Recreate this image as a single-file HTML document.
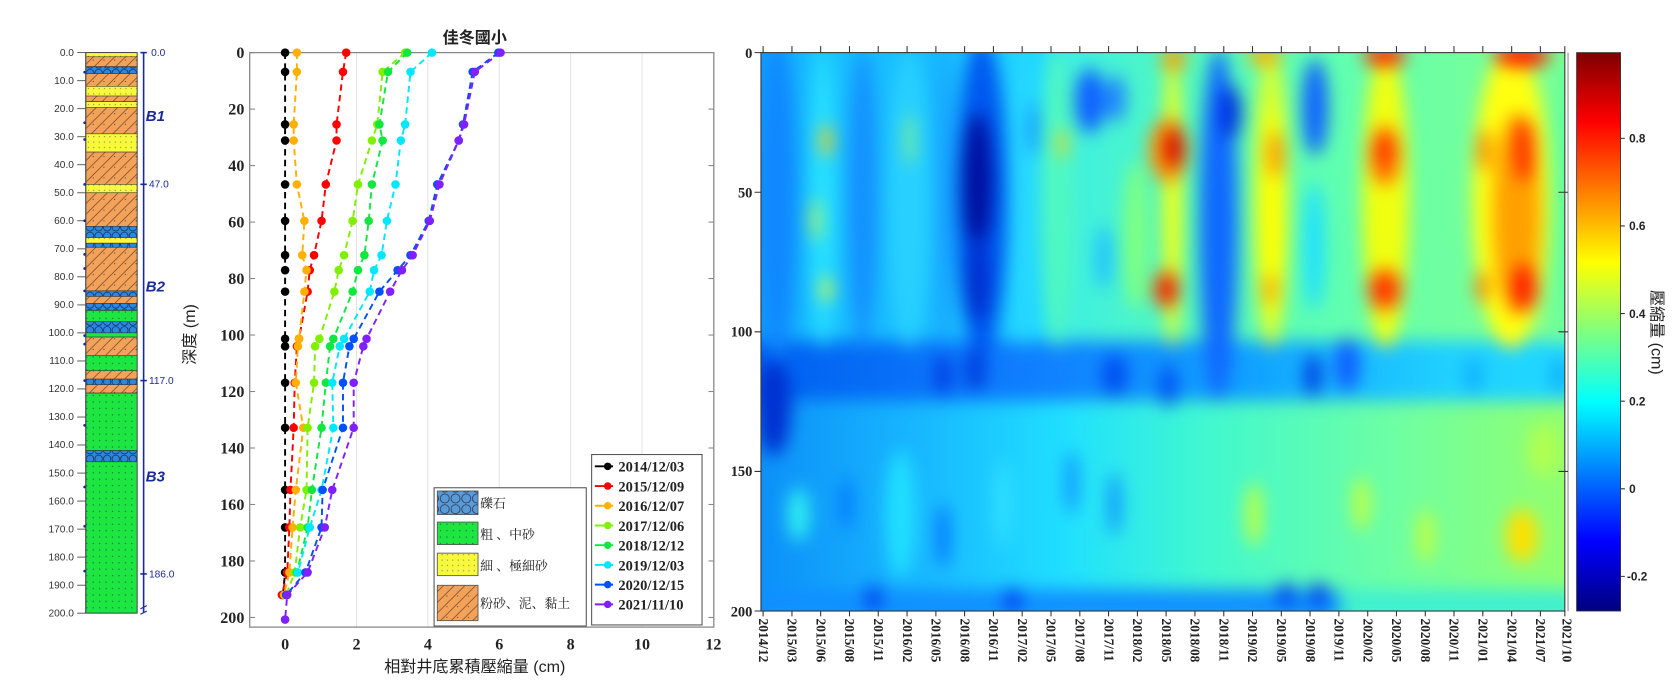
<!DOCTYPE html>
<html><head><meta charset="utf-8"><style>html,body{margin:0;padding:0;background:#fff}svg{display:block}</style></head><body>
<svg width="1672" height="699" viewBox="0 0 1560 652" xmlns="http://www.w3.org/2000/svg">
<defs>
<pattern id="pOr" patternUnits="userSpaceOnUse" width="10" height="10"><rect width="10" height="10" fill="#f4a25a"/><path d="M-2,12 L12,-2 M-2,2 L2,-2 M8,12 L12,8" stroke="#6a4a2a" stroke-width="0.7"/><circle cx="7" cy="6" r="0.5" fill="#333"/></pattern>
<pattern id="pYe" patternUnits="userSpaceOnUse" width="5" height="5"><rect width="5" height="5" fill="#f8f83c"/><circle cx="2.5" cy="2.5" r="0.5" fill="#555"/></pattern>
<pattern id="pGr" patternUnits="userSpaceOnUse" width="6" height="6"><rect width="6" height="6" fill="#1ee640"/><circle cx="3" cy="3" r="0.55" fill="#155"/></pattern>
<pattern id="pBl" patternUnits="userSpaceOnUse" width="8" height="8"><rect width="8" height="8" fill="#2a88e0"/><circle cx="4" cy="4" r="3.5" fill="none" stroke="#124" stroke-width="0.6"/></pattern>
<pattern id="pBl2" patternUnits="userSpaceOnUse" width="10" height="10"><rect width="10" height="10" fill="#5a9ad8"/><circle cx="5" cy="5" r="4.2" fill="none" stroke="#234" stroke-width="0.7"/></pattern>
<pattern id="ruler" patternUnits="userSpaceOnUse" x="0" y="49" width="10" height="2.615"><line x1="75" y1="0.3" x2="80" y2="0.3" stroke="#666" stroke-width="0.5"/></pattern>
<linearGradient id="jet" x1="0" y1="1" x2="0" y2="0">
<stop offset="0" stop-color="#00007f"/><stop offset="0.125" stop-color="#0000ff"/><stop offset="0.375" stop-color="#00ffff"/><stop offset="0.625" stop-color="#ffff00"/><stop offset="0.875" stop-color="#ff0000"/><stop offset="1" stop-color="#7f0000"/></linearGradient>
<linearGradient id="baseU" x1="710" y1="0" x2="1460" y2="0" gradientUnits="userSpaceOnUse">
<stop offset="0" stop-color="#10a0ff"/><stop offset="0.07" stop-color="#18c0ff"/><stop offset="0.22" stop-color="#18bcff"/><stop offset="0.34" stop-color="#20d8ff"/><stop offset="0.39" stop-color="#40f0e0"/><stop offset="0.52" stop-color="#50f8c0"/><stop offset="0.72" stop-color="#60ffb0"/><stop offset="1" stop-color="#80ff90"/></linearGradient>
<linearGradient id="band" x1="710" y1="0" x2="1460" y2="0" gradientUnits="userSpaceOnUse">
<stop offset="0" stop-color="#0060f0"/><stop offset="0.35" stop-color="#1080ff"/><stop offset="0.6" stop-color="#10a0ff"/><stop offset="0.85" stop-color="#20d0ff"/><stop offset="1" stop-color="#20d8ff"/></linearGradient>
<linearGradient id="baseL" x1="710" y1="0" x2="1460" y2="0" gradientUnits="userSpaceOnUse">
<stop offset="0" stop-color="#0c90f8"/><stop offset="0.2" stop-color="#18b8ff"/><stop offset="0.38" stop-color="#20e0ff"/><stop offset="0.55" stop-color="#40f8d0"/><stop offset="0.8" stop-color="#70ffa0"/><stop offset="1" stop-color="#90ff70"/></linearGradient>
<filter id="bl" x="-5%" y="-5%" width="110%" height="110%" color-interpolation-filters="sRGB"><feGaussianBlur stdDeviation="8"/></filter>
<clipPath id="hc"><rect x="710" y="49" width="750" height="521"/></clipPath>
<marker id="mk" markerUnits="userSpaceOnUse" markerWidth="10" markerHeight="10" refX="5" refY="5"><circle cx="5" cy="5" r="4" fill="context-stroke"/></marker>
</defs>

<!-- ===== LEFT COLUMN ===== -->
<g>
<rect x="80" y="49" width="48" height="523" fill="url(#pGr)"/>
<g stroke="#333" stroke-width="0.5">
<rect x="80" y="49.0" width="48" height="3.9" fill="url(#pYe)"/>
<rect x="80" y="52.9" width="48" height="9.2" fill="url(#pOr)"/>
<rect x="80" y="62.1" width="48" height="6.5" fill="url(#pBl)"/>
<rect x="80" y="68.6" width="48" height="11.8" fill="url(#pOr)"/>
<rect x="80" y="80.4" width="48" height="9.2" fill="url(#pYe)"/>
<rect x="80" y="89.5" width="48" height="5.2" fill="url(#pOr)"/>
<rect x="80" y="94.8" width="48" height="5.2" fill="url(#pYe)"/>
<rect x="80" y="100.0" width="48" height="24.8" fill="url(#pOr)"/>
<rect x="80" y="124.8" width="48" height="17.0" fill="url(#pYe)"/>
<rect x="80" y="141.8" width="48" height="30.1" fill="url(#pOr)"/>
<rect x="80" y="171.9" width="48" height="7.8" fill="url(#pYe)"/>
<rect x="80" y="179.8" width="48" height="31.4" fill="url(#pOr)"/>
<rect x="80" y="211.1" width="48" height="10.5" fill="url(#pBl)"/>
<rect x="80" y="221.6" width="48" height="5.2" fill="url(#pYe)"/>
<rect x="80" y="226.8" width="48" height="3.9" fill="url(#pBl)"/>
<rect x="80" y="230.7" width="48" height="40.5" fill="url(#pOr)"/>
<rect x="80" y="271.3" width="48" height="5.2" fill="url(#pBl)"/>
<rect x="80" y="276.5" width="48" height="6.5" fill="url(#pOr)"/>
<rect x="80" y="283.1" width="48" height="6.5" fill="url(#pBl)"/>
<rect x="80" y="289.6" width="48" height="10.5" fill="url(#pGr)"/>
<rect x="80" y="300.0" width="48" height="10.5" fill="url(#pBl)"/>
<rect x="80" y="310.5" width="48" height="3.9" fill="url(#pGr)"/>
<rect x="80" y="314.4" width="48" height="17.0" fill="url(#pOr)"/>
<rect x="80" y="331.4" width="48" height="14.4" fill="url(#pGr)"/>
<rect x="80" y="345.8" width="48" height="7.8" fill="url(#pOr)"/>
<rect x="80" y="353.6" width="48" height="5.2" fill="url(#pBl)"/>
<rect x="80" y="358.8" width="48" height="7.8" fill="url(#pOr)"/>
<rect x="80" y="366.7" width="48" height="53.6" fill="url(#pGr)"/>
<rect x="80" y="420.3" width="48" height="10.5" fill="url(#pBl)"/>
<rect x="80" y="430.8" width="48" height="141.2" fill="url(#pGr)"/>
</g>
<rect x="80" y="49" width="48" height="523" fill="none" stroke="#333" stroke-width="0.8"/>
<rect x="70" y="49" width="10" height="523" fill="url(#ruler)"/>
<line x1="80" y1="49" x2="80" y2="572" stroke="#555" stroke-width="1"/>
<g stroke="#444" stroke-width="0.8">
<line x1="72" y1="49" x2="80" y2="49"/><line x1="72" y1="75.2" x2="80" y2="75.2"/><line x1="72" y1="101.3" x2="80" y2="101.3"/><line x1="72" y1="127.5" x2="80" y2="127.5"/><line x1="72" y1="153.6" x2="80" y2="153.6"/><line x1="72" y1="179.8" x2="80" y2="179.8"/><line x1="72" y1="205.9" x2="80" y2="205.9"/><line x1="72" y1="232.1" x2="80" y2="232.1"/><line x1="72" y1="258.2" x2="80" y2="258.2"/><line x1="72" y1="284.4" x2="80" y2="284.4"/><line x1="72" y1="310.5" x2="80" y2="310.5"/><line x1="72" y1="336.7" x2="80" y2="336.7"/><line x1="72" y1="362.8" x2="80" y2="362.8"/><line x1="72" y1="389.0" x2="80" y2="389.0"/><line x1="72" y1="415.1" x2="80" y2="415.1"/><line x1="72" y1="441.3" x2="80" y2="441.3"/><line x1="72" y1="467.4" x2="80" y2="467.4"/><line x1="72" y1="493.6" x2="80" y2="493.6"/><line x1="72" y1="519.7" x2="80" y2="519.7"/><line x1="72" y1="545.9" x2="80" y2="545.9"/><line x1="72" y1="572" x2="80" y2="572"/>
</g>
<g font-family="Liberation Sans, sans-serif" font-size="9.5" fill="#333" text-anchor="end">
<text x="69" y="52">0.0</text><text x="69" y="78.2">10.0</text><text x="69" y="104.3">20.0</text><text x="69" y="130.5">30.0</text><text x="69" y="156.6">40.0</text><text x="69" y="182.8">50.0</text><text x="69" y="208.9">60.0</text><text x="69" y="235.1">70.0</text><text x="69" y="261.2">80.0</text><text x="69" y="287.4">90.0</text><text x="69" y="313.5">100.0</text><text x="69" y="339.7">110.0</text><text x="69" y="365.8">120.0</text><text x="69" y="392">130.0</text><text x="69" y="418.1">140.0</text><text x="69" y="444.3">150.0</text><text x="69" y="470.4">160.0</text><text x="69" y="496.6">170.0</text><text x="69" y="522.7">180.0</text><text x="69" y="548.9">190.0</text><text x="69" y="575">200.0</text>
</g>
<g fill="#1a2a9a">
<circle cx="79" cy="67.3" r="1.3"/><circle cx="79" cy="114.4" r="1.3"/><circle cx="79" cy="130.1" r="1.3"/><circle cx="79" cy="171.9" r="1.3"/><circle cx="79" cy="205.9" r="1.3"/><circle cx="79" cy="237.3" r="1.3"/><circle cx="79" cy="250.4" r="1.3"/><circle cx="79" cy="271.3" r="1.3"/><circle cx="79" cy="313.1" r="1.3"/><circle cx="79" cy="321" r="1.3"/><circle cx="79" cy="355" r="1.3"/><circle cx="79" cy="396.8" r="1.3"/><circle cx="79" cy="454.3" r="1.3"/><circle cx="79" cy="490.9" r="1.3"/><circle cx="79" cy="532.8" r="1.3"/>
</g>
<g stroke="#1a2a9a" stroke-width="1.5"><line x1="134" y1="49" x2="134" y2="572"/><line x1="131" y1="49" x2="137" y2="49"/><line x1="131" y1="171.9" x2="137" y2="171.9"/><line x1="131" y1="355" x2="137" y2="355"/><line x1="131" y1="535.4" x2="137" y2="535.4"/><path d="M131,568 l6,-3 M131,573 l6,-3" stroke-width="1"/></g>
<g font-family="Liberation Sans, sans-serif" font-size="9.5" fill="#1a2a9a">
<text x="141" y="52">0.0</text><text x="139" y="175">47.0</text><text x="139" y="358">117.0</text><text x="139" y="538.5">186.0</text>
</g>
<g font-family="Liberation Sans, sans-serif" font-size="14" font-weight="bold" font-style="italic" fill="#1a2a9a">
<text x="136" y="113">B1</text><text x="136" y="272">B2</text><text x="136" y="449">B3</text>
</g>
</g>

<!-- ===== MIDDLE CHART ===== -->
<g>
<g stroke="#e4e4e4" stroke-width="1"><line x1="332.6" y1="49" x2="332.6" y2="585"/><line x1="399.2" y1="49" x2="399.2" y2="585"/><line x1="465.8" y1="49" x2="465.8" y2="585"/><line x1="532.4" y1="49" x2="532.4" y2="585"/><line x1="599" y1="49" x2="599" y2="585"/></g>
<rect x="233" y="49" width="433" height="536" fill="none" stroke="#888" stroke-width="1.2"/>
<g stroke="#888" stroke-width="1">
<line x1="233" y1="49" x2="238" y2="49"/><line x1="233" y1="101.7" x2="238" y2="101.7"/><line x1="233" y1="154.4" x2="238" y2="154.4"/><line x1="233" y1="207.1" x2="238" y2="207.1"/><line x1="233" y1="259.8" x2="238" y2="259.8"/><line x1="233" y1="312.5" x2="238" y2="312.5"/><line x1="233" y1="365.2" x2="238" y2="365.2"/><line x1="233" y1="417.9" x2="238" y2="417.9"/><line x1="233" y1="470.6" x2="238" y2="470.6"/><line x1="233" y1="523.3" x2="238" y2="523.3"/><line x1="233" y1="576" x2="238" y2="576"/>
<line x1="661" y1="101.7" x2="666" y2="101.7"/><line x1="661" y1="154.4" x2="666" y2="154.4"/><line x1="661" y1="207.1" x2="666" y2="207.1"/><line x1="661" y1="259.8" x2="666" y2="259.8"/><line x1="661" y1="312.5" x2="666" y2="312.5"/><line x1="661" y1="365.2" x2="666" y2="365.2"/><line x1="661" y1="417.9" x2="666" y2="417.9"/><line x1="661" y1="470.6" x2="666" y2="470.6"/><line x1="661" y1="523.3" x2="666" y2="523.3"/><line x1="661" y1="576" x2="666" y2="576"/>
</g>
<g font-family="Liberation Serif, serif" font-size="15" font-weight="bold" fill="#222" text-anchor="end">
<text x="228" y="54">0</text><text x="228" y="106.7">20</text><text x="228" y="159.4">40</text><text x="228" y="212.1">60</text><text x="228" y="264.8">80</text><text x="228" y="317.5">100</text><text x="228" y="370.2">120</text><text x="228" y="422.9">140</text><text x="228" y="475.6">160</text><text x="228" y="528.3">180</text><text x="228" y="581">200</text>
</g>
<g font-family="Liberation Serif, serif" font-size="15" font-weight="bold" fill="#222" text-anchor="middle">
<text x="266" y="606">0</text><text x="332.6" y="606">2</text><text x="399.2" y="606">4</text><text x="465.8" y="606">6</text><text x="532.4" y="606">8</text><text x="599" y="606">10</text><text x="665.6" y="606">12</text>
</g>
<text x="443" y="627" font-family="Liberation Sans, 'Noto Sans CJK TC', sans-serif" font-size="15" fill="#222" text-anchor="middle">相對井底累積壓縮量 (cm)</text>
<text transform="translate(182,312) rotate(-90)" font-family="Liberation Sans, 'Noto Sans CJK TC', sans-serif" font-size="15" fill="#222" text-anchor="middle">深度 (m)</text>
<text x="443" y="40" font-family="Liberation Sans, 'Noto Sans CJK TC', sans-serif" font-size="15" font-weight="bold" fill="#222" text-anchor="middle">佳冬國小</text>

<g fill="none" stroke-width="1.8" stroke-dasharray="6,4" marker-start="url(#mk)" marker-mid="url(#mk)" marker-end="url(#mk)">
<polyline stroke="#000" points="266,49 266,67 266,116 266,131 266,172 266,206 266,238 266,252 266,272 266,316 266,323 266,357 266,399 266,457 266,492 266,534 264,555"/>
<polyline stroke="#ff0000" points="323,49 320,67 314,116 314,131 304,172 300,206 293,238 289,252 287,272 279,316 277,323 275,357 274,399 271,457 270,492 268,534 263,555"/>
<polyline stroke="#ffb000" points="277,49 277,67 274,116 274,131 277,172 284,206 282,238 286,252 284,272 279,316 278,323 276,357 283,399 276,457 273,492 270,534 265,555"/>
<polyline stroke="#80f000" points="378,49 357,67 352,116 347,131 334,172 329,206 321,238 316,252 312,272 298,316 294,323 293,357 287,399 286,457 280,492 275,534 267,555"/>
<polyline stroke="#10e840" points="380,49 362,67 354,116 357,131 347,172 344,206 340,238 334,252 329,272 311,316 308,323 304,357 300,399 291,457 287,492 277,534"/>
<polyline stroke="#00e8ff" points="403,49 383,67 378,116 374,131 369,172 361,206 356,238 349,252 345,272 321,316 317,323 310,357 311,399 300,457 289,492 278,534"/>
<polyline stroke="#0050ff" points="465,49 441,67 432,116 428,131 408,172 400,206 383,238 371,252 354,272 330,316 326,323 320,357 320,399 301,457 300,492 285,534 267,555"/>
<polyline stroke="#8020ff" points="467,49 443,67 433,116 428,131 410,172 401,206 385,238 375,252 364,272 342,316 339,323 330,357 330,399 310,457 303,492 287,534 268,555 266,578"/>
</g>

<rect x="405" y="455" width="142" height="129" fill="#fff" stroke="#555" stroke-width="1"/>
<rect x="408" y="458" width="38" height="22" fill="url(#pBl2)" stroke="#555" stroke-width="0.8"/>
<rect x="408" y="487" width="38" height="21" fill="url(#pGr)" stroke="#555" stroke-width="0.8"/>
<rect x="408" y="516" width="38" height="21" fill="url(#pYe)" stroke="#555" stroke-width="0.8"/>
<rect x="408" y="546" width="38" height="33" fill="url(#pOr)" stroke="#555" stroke-width="0.8"/>
<g font-family="'Noto Serif CJK SC', 'Noto Sans CJK TC', serif" font-size="12" fill="#222">
<text x="448" y="474">礫石</text><text x="448" y="503">粗 、中砂</text><text x="448" y="532">細 、極細砂</text><text x="448" y="567">粉砂、泥、黏土</text>
</g>
<rect x="552" y="424" width="103" height="159" fill="#fff" stroke="#555" stroke-width="1"/>
<g stroke-width="1.8">
<line x1="555" y1="435" x2="572" y2="435" stroke="#000"/><circle cx="567" cy="435" r="3.5" fill="#000"/>
<line x1="555" y1="453.4" x2="572" y2="453.4" stroke="#f00"/><circle cx="567" cy="453.4" r="3.5" fill="#f00"/>
<line x1="555" y1="471.8" x2="572" y2="471.8" stroke="#ffb000"/><circle cx="567" cy="471.8" r="3.5" fill="#ffb000"/>
<line x1="555" y1="490.2" x2="572" y2="490.2" stroke="#80f000"/><circle cx="567" cy="490.2" r="3.5" fill="#80f000"/>
<line x1="555" y1="508.6" x2="572" y2="508.6" stroke="#10e840"/><circle cx="567" cy="508.6" r="3.5" fill="#10e840"/>
<line x1="555" y1="527" x2="572" y2="527" stroke="#00e8ff"/><circle cx="567" cy="527" r="3.5" fill="#00e8ff"/>
<line x1="555" y1="545.4" x2="572" y2="545.4" stroke="#0050ff"/><circle cx="567" cy="545.4" r="3.5" fill="#0050ff"/>
<line x1="555" y1="563.8" x2="572" y2="563.8" stroke="#8020ff"/><circle cx="567" cy="563.8" r="3.5" fill="#8020ff"/>
</g>
<g font-family="Liberation Serif, serif" font-size="13.5" font-weight="bold" fill="#222">
<text x="577" y="440">2014/12/03</text><text x="577" y="458.4">2015/12/09</text><text x="577" y="476.8">2016/12/07</text><text x="577" y="495.2">2017/12/06</text><text x="577" y="513.6">2018/12/12</text><text x="577" y="532">2019/12/03</text><text x="577" y="550.4">2020/12/15</text><text x="577" y="568.8">2021/11/10</text>
</g>
</g>

<!-- ===== HEATMAP ===== -->
<g clip-path="url(#hc)">
<rect x="700" y="40" width="770" height="540" fill="url(#baseU)"/>
<g filter="url(#bl)">
<rect x="690" y="376" width="790" height="200" fill="url(#baseL)"/>
<rect x="690" y="318" width="790" height="56" fill="url(#band)"/>
<ellipse cx="725" cy="185" rx="18" ry="150" fill="#1088ff"/>
<ellipse cx="768" cy="185" rx="12" ry="140" fill="#28e0ff"/>
<ellipse cx="771" cy="131" rx="5" ry="15" fill="#ffcc00"/>
<ellipse cx="771" cy="270" rx="5" ry="12" fill="#e8ff30"/>
<ellipse cx="761" cy="205" rx="4" ry="20" fill="#d0ff40"/>
<ellipse cx="805" cy="185" rx="14" ry="140" fill="#1490ff"/>
<ellipse cx="848" cy="185" rx="20" ry="140" fill="#28d0ff"/>
<ellipse cx="849" cy="130" rx="3" ry="25" fill="#b0ff50"/>
<ellipse cx="882" cy="185" rx="6" ry="140" fill="#1898ff"/>
<ellipse cx="916" cy="185" rx="24" ry="150" fill="#0058f0"/>
<ellipse cx="912" cy="170" rx="14" ry="65" fill="#0010a0"/>
<ellipse cx="912" cy="260" rx="12" ry="40" fill="#0030d0"/>
<ellipse cx="956" cy="185" rx="10" ry="140" fill="#28d8ff"/>
<ellipse cx="964" cy="120" rx="4" ry="25" fill="#1080ff"/>
<ellipse cx="987" cy="185" rx="16" ry="140" fill="#50f8c0"/>
<ellipse cx="991" cy="134" rx="4" ry="14" fill="#ffd000"/>
<ellipse cx="1017" cy="94" rx="14" ry="30" fill="#1060ff"/>
<ellipse cx="1041" cy="92" rx="9" ry="22" fill="#2080ff"/>
<ellipse cx="1030" cy="240" rx="8" ry="30" fill="#20c0ff"/>
<ellipse cx="1060" cy="220" rx="12" ry="70" fill="#80ff80"/>
<ellipse cx="1094" cy="185" rx="9" ry="140" fill="#f8ff10"/>
<ellipse cx="1090" cy="140" rx="18" ry="30" fill="#ff9000"/>
<ellipse cx="1095" cy="138" rx="8" ry="18" fill="#d00000"/>
<ellipse cx="1088" cy="270" rx="12" ry="18" fill="#ff6000"/>
<ellipse cx="1089" cy="270" rx="6" ry="10" fill="#e00000"/>
<ellipse cx="1095" cy="55" rx="12" ry="10" fill="#ffa000"/>
<ellipse cx="1137" cy="210" rx="18" ry="165" fill="#1068ff"/>
<ellipse cx="1148" cy="105" rx="10" ry="25" fill="#0030e0"/>
<ellipse cx="1186" cy="185" rx="17" ry="140" fill="#d8ff30"/>
<ellipse cx="1187" cy="200" rx="10" ry="100" fill="#ffff00"/>
<ellipse cx="1190" cy="144" rx="8" ry="22" fill="#ffa000"/>
<ellipse cx="1185" cy="270" rx="7" ry="14" fill="#ffb000"/>
<ellipse cx="1180" cy="52" rx="16" ry="9" fill="#ffb000"/>
<ellipse cx="1227" cy="100" rx="12" ry="45" fill="#1060ff"/>
<ellipse cx="1226" cy="230" rx="10" ry="60" fill="#20e0ff"/>
<ellipse cx="1293" cy="185" rx="22" ry="140" fill="#f0ff10"/>
<ellipse cx="1292" cy="145" rx="14" ry="28" fill="#ff7000"/>
<ellipse cx="1292" cy="140" rx="6" ry="14" fill="#ff2000"/>
<ellipse cx="1292" cy="270" rx="16" ry="20" fill="#ff6000"/>
<ellipse cx="1292" cy="270" rx="6" ry="10" fill="#ff1000"/>
<ellipse cx="1292" cy="52" rx="20" ry="10" fill="#ff3000"/>
<ellipse cx="1410" cy="185" rx="36" ry="140" fill="#ffff10"/>
<ellipse cx="1415" cy="200" rx="22" ry="95" fill="#ffa000"/>
<ellipse cx="1422" cy="140" rx="10" ry="30" fill="#ff3000"/>
<ellipse cx="1422" cy="268" rx="12" ry="22" fill="#ff2000"/>
<ellipse cx="1385" cy="140" rx="6" ry="20" fill="#ff8000"/>
<ellipse cx="1383" cy="268" rx="6" ry="15" fill="#ff8000"/>
<ellipse cx="1420" cy="52" rx="26" ry="11" fill="#ff2000"/>
<ellipse cx="1458" cy="185" rx="10" ry="140" fill="#60ffa0"/>
<ellipse cx="722" cy="380" rx="16" ry="45" fill="#0030d0"/>
<ellipse cx="880" cy="350" rx="6" ry="20" fill="#0030e0"/>
<ellipse cx="910" cy="345" rx="10" ry="20" fill="#0040e0"/>
<ellipse cx="1040" cy="350" rx="12" ry="20" fill="#0050f0"/>
<ellipse cx="1090" cy="360" rx="8" ry="20" fill="#0050f0"/>
<ellipse cx="1225" cy="350" rx="8" ry="20" fill="#0040e0"/>
<ellipse cx="1257" cy="340" rx="12" ry="25" fill="#1060ff"/>
<ellipse cx="1375" cy="350" rx="8" ry="18" fill="#10b0ff"/>
<ellipse cx="1455" cy="350" rx="8" ry="18" fill="#10b0ff"/>
<ellipse cx="745" cy="480" rx="10" ry="25" fill="#30f0f0"/>
<ellipse cx="790" cy="470" rx="5" ry="25" fill="#0070ff"/>
<ellipse cx="840" cy="480" rx="14" ry="60" fill="#20e0ff"/>
<ellipse cx="880" cy="500" rx="5" ry="30" fill="#0060ff"/>
<ellipse cx="935" cy="470" rx="8" ry="40" fill="#30e0ff"/>
<ellipse cx="1000" cy="450" rx="6" ry="30" fill="#1090ff"/>
<ellipse cx="1040" cy="470" rx="6" ry="30" fill="#1090ff"/>
<ellipse cx="1170" cy="480" rx="8" ry="30" fill="#c0ff40"/>
<ellipse cx="1270" cy="470" rx="8" ry="25" fill="#c0ff40"/>
<ellipse cx="1330" cy="500" rx="8" ry="25" fill="#c0ff40"/>
<ellipse cx="1420" cy="500" rx="15" ry="25" fill="#ffe000"/>
<ellipse cx="1440" cy="420" rx="15" ry="25" fill="#b0ff50"/>
<rect x="690" y="550" width="560" height="30" fill="#1090ff"/>
<ellipse cx="815" cy="558" rx="8" ry="12" fill="#0040f0"/>
<ellipse cx="945" cy="560" rx="8" ry="12" fill="#0040f0"/>
<ellipse cx="1200" cy="555" rx="8" ry="12" fill="#0040f0"/>
<ellipse cx="1230" cy="555" rx="8" ry="12" fill="#0040f0"/>
<rect x="1250" y="550" width="220" height="30" fill="#40f0d0"/>
</g>
</g>
<rect x="710" y="49" width="750" height="521" fill="none" stroke="#333" stroke-width="1"/>
<line x1="1463" y1="49" x2="1463" y2="570" stroke="#888" stroke-width="1"/>
<g stroke="#333" stroke-width="1">
<path d="M712,43v6M738.9,43v6M765.7,43v6M792.6,43v6M819.4,43v6M846.3,43v6M873.2,43v6M900,43v6M926.9,43v6M953.7,43v6M980.6,43v6M1007.5,43v6M1034.3,43v6M1061.2,43v6M1088,43v6M1114.9,43v6M1141.8,43v6M1168.6,43v6M1195.5,43v6M1222.3,43v6M1249.2,43v6M1276.1,43v6M1302.9,43v6M1329.8,43v6M1356.6,43v6M1383.5,43v6M1410.4,43v6M1437.2,43v6M1460,43v6"/>
<path d="M712,570v5M738.9,570v5M765.7,570v5M792.6,570v5M819.4,570v5M846.3,570v5M873.2,570v5M900,570v5M926.9,570v5M953.7,570v5M980.6,570v5M1007.5,570v5M1034.3,570v5M1061.2,570v5M1088,570v5M1114.9,570v5M1141.8,570v5M1168.6,570v5M1195.5,570v5M1222.3,570v5M1249.2,570v5M1276.1,570v5M1302.9,570v5M1329.8,570v5M1356.6,570v5M1383.5,570v5M1410.4,570v5M1437.2,570v5M1460,570v5"/>
<path d="M704,49h6M704,179.3h6M704,309.5h6M704,439.8h6M704,570h6M1454,179.3h9M1454,309.5h9M1454,439.8h9"/>
</g>
<g font-family="Liberation Serif, serif" font-size="13.5" font-weight="bold" fill="#222" text-anchor="end">
<text x="702" y="54">0</text><text x="702" y="184">50</text><text x="702" y="314">100</text><text x="702" y="444">150</text><text x="702" y="575">200</text>
</g>
<g font-family="Liberation Serif, serif" font-size="12.5" font-weight="bold" fill="#222">
<text transform="translate(708,577) rotate(90)">2014/12</text><text transform="translate(734.9,577) rotate(90)">2015/03</text><text transform="translate(761.7,577) rotate(90)">2015/06</text><text transform="translate(788.6,577) rotate(90)">2015/08</text><text transform="translate(815.4,577) rotate(90)">2015/11</text><text transform="translate(842.3,577) rotate(90)">2016/02</text><text transform="translate(869.2,577) rotate(90)">2016/05</text><text transform="translate(896,577) rotate(90)">2016/08</text><text transform="translate(922.9,577) rotate(90)">2016/11</text><text transform="translate(949.7,577) rotate(90)">2017/02</text><text transform="translate(976.6,577) rotate(90)">2017/05</text><text transform="translate(1003.5,577) rotate(90)">2017/08</text><text transform="translate(1030.3,577) rotate(90)">2017/11</text><text transform="translate(1057.2,577) rotate(90)">2018/02</text><text transform="translate(1084,577) rotate(90)">2018/05</text><text transform="translate(1110.9,577) rotate(90)">2018/08</text><text transform="translate(1137.8,577) rotate(90)">2018/11</text><text transform="translate(1164.6,577) rotate(90)">2019/02</text><text transform="translate(1191.5,577) rotate(90)">2019/05</text><text transform="translate(1218.3,577) rotate(90)">2019/08</text><text transform="translate(1245.2,577) rotate(90)">2019/11</text><text transform="translate(1272.1,577) rotate(90)">2020/02</text><text transform="translate(1298.9,577) rotate(90)">2020/05</text><text transform="translate(1325.8,577) rotate(90)">2020/08</text><text transform="translate(1352.6,577) rotate(90)">2020/11</text><text transform="translate(1379.5,577) rotate(90)">2021/01</text><text transform="translate(1406.4,577) rotate(90)">2021/04</text><text transform="translate(1433.2,577) rotate(90)">2021/07</text><text transform="translate(1458,577) rotate(90)">2021/10</text>
</g>
<rect x="1471" y="49" width="41" height="521" fill="url(#jet)" stroke="#333" stroke-width="0.8"/>
<g stroke="#333" stroke-width="1"><path d="M1512,129h4M1512,210.7h4M1512,292.5h4M1512,374.2h4M1512,456h4M1512,537.7h4"/></g>
<g font-family="Liberation Sans, sans-serif" font-size="11" font-weight="bold" fill="#222">
<text x="1520" y="133">0.8</text><text x="1520" y="214.7">0.6</text><text x="1520" y="296.5">0.4</text><text x="1520" y="378.2">0.2</text><text x="1520" y="460">0</text><text x="1518" y="541.7">-0.2</text>
</g>
<text transform="translate(1541,310) rotate(90)" font-family="Liberation Sans, 'Noto Sans CJK TC', sans-serif" font-size="15" fill="#222" text-anchor="middle">壓縮量 (cm)</text>
</svg>
</body></html>
